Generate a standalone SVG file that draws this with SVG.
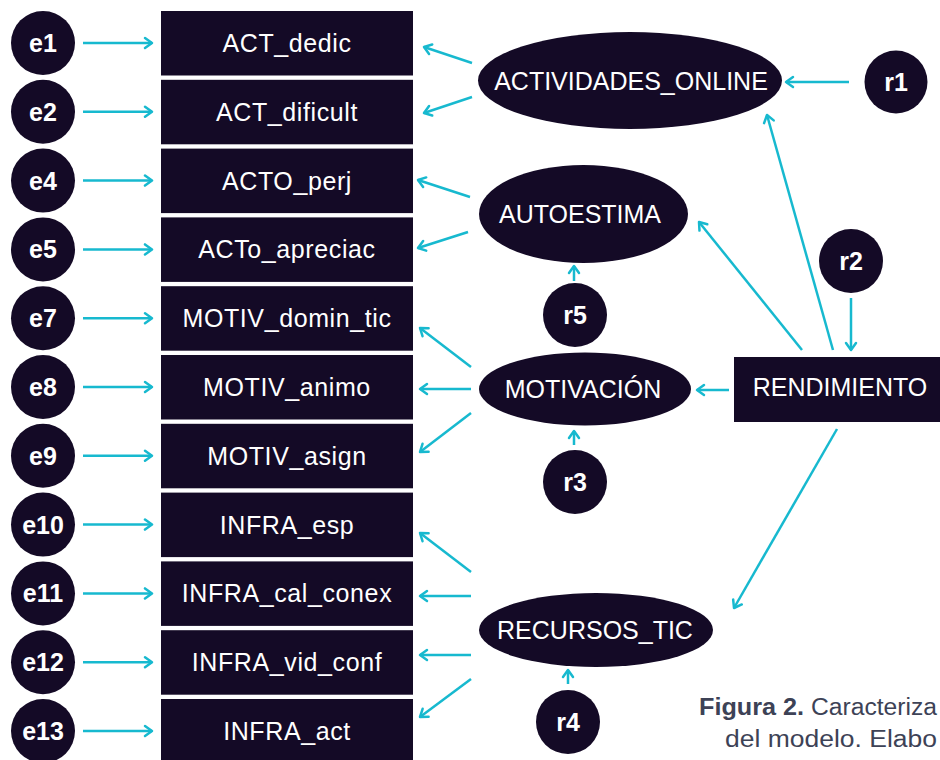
<svg xmlns="http://www.w3.org/2000/svg" width="940" height="760" viewBox="0 0 940 760">
<defs>
<marker id="ah" viewBox="-10 -7 12 14" refX="0" refY="0" markerWidth="12" markerHeight="14" markerUnits="userSpaceOnUse" orient="auto">
<path d="M-7,-5 L0,0 L-7,5" fill="none" stroke="#17b9cf" stroke-width="2.5" stroke-linecap="round" stroke-linejoin="round"/>
</marker>
<style>
.n{fill:#140a26}
.t{fill:#ffffff;font-family:"Liberation Sans",Arial,sans-serif;font-size:25px;text-anchor:middle}
.r{letter-spacing:0.6px}
.c{font-weight:bold;font-size:25px}
.ln{stroke:#17b9cf;stroke-width:2.5;fill:none;marker-end:url(#ah)}
.cap{font-family:"Liberation Sans",Arial,sans-serif;font-size:23px;fill:#3d4256}
</style>
</defs>
<rect width="940" height="760" fill="#ffffff"/>
<g id="e1"><circle class="n" cx="43" cy="43" r="32"/><text class="t c" x="43" y="52">e1</text></g>
<g id="e2"><circle class="n" cx="43" cy="111.8" r="32"/><text class="t c" x="43" y="120.8">e2</text></g>
<g id="e4"><circle class="n" cx="43" cy="180.6" r="32"/><text class="t c" x="43" y="189.6">e4</text></g>
<g id="e5"><circle class="n" cx="43" cy="249.4" r="32"/><text class="t c" x="43" y="258.4">e5</text></g>
<g id="e7"><circle class="n" cx="43" cy="318.2" r="32"/><text class="t c" x="43" y="327.2">e7</text></g>
<g id="e8"><circle class="n" cx="43" cy="387" r="32"/><text class="t c" x="43" y="396">e8</text></g>
<g id="e9"><circle class="n" cx="43" cy="455.8" r="32"/><text class="t c" x="43" y="464.8">e9</text></g>
<g id="e10"><circle class="n" cx="43" cy="524.6" r="32"/><text class="t c" x="43" y="533.6">e10</text></g>
<g id="e11"><circle class="n" cx="43" cy="593.4" r="32"/><text class="t c" x="43" y="602.4">e11</text></g>
<g id="e12"><circle class="n" cx="43" cy="662.2" r="32"/><text class="t c" x="43" y="671.2">e12</text></g>
<g id="e13"><circle class="n" cx="43" cy="731" r="32"/><text class="t c" x="43" y="740">e13</text></g>

<g id="ACT_dedic"><rect class="n" x="161" y="11" width="252" height="64.5"/><text class="t r" x="287" y="52">ACT_dedic</text></g>
<g id="ACT_dificult"><rect class="n" x="161" y="79.8" width="252" height="64.5"/><text class="t r" x="287" y="120.8">ACT_dificult</text></g>
<g id="ACTO_perj"><rect class="n" x="161" y="148.6" width="252" height="64.5"/><text class="t r" x="287" y="189.6">ACTO_perj</text></g>
<g id="ACTo_apreciac"><rect class="n" x="161" y="217.4" width="252" height="64.5"/><text class="t r" x="287" y="258.4">ACTo_apreciac</text></g>
<g id="MOTIV_domin_tic"><rect class="n" x="161" y="286.2" width="252" height="64.5"/><text class="t r" x="287" y="327.2">MOTIV_domin_tic</text></g>
<g id="MOTIV_animo"><rect class="n" x="161" y="355" width="252" height="64.5"/><text class="t r" x="287" y="396">MOTIV_animo</text></g>
<g id="MOTIV_asign"><rect class="n" x="161" y="423.8" width="252" height="64.5"/><text class="t r" x="287" y="464.8">MOTIV_asign</text></g>
<g id="INFRA_esp"><rect class="n" x="161" y="492.6" width="252" height="64.5"/><text class="t r" x="287" y="533.6">INFRA_esp</text></g>
<g id="INFRA_cal_conex"><rect class="n" x="161" y="561.4" width="252" height="64.5"/><text class="t r" x="287" y="602.4">INFRA_cal_conex</text></g>
<g id="INFRA_vid_conf"><rect class="n" x="161" y="630.2" width="252" height="64.5"/><text class="t r" x="287" y="671.2">INFRA_vid_conf</text></g>
<g id="INFRA_act"><rect class="n" x="161" y="699" width="252" height="64.5"/><text class="t r" x="287" y="740">INFRA_act</text></g>

<g id="ACTIVIDADES_ONLINE"><ellipse class="n" cx="630" cy="80.5" rx="152" ry="48.5"/><text class="t" x="631" y="90">ACTIVIDADES_ONLINE</text></g>
<g id="AUTOESTIMA"><ellipse class="n" cx="583.5" cy="214" rx="104.5" ry="49"/><text class="t" x="580" y="223">AUTOESTIMA</text></g>
<g id="MOTIVACION"><ellipse class="n" cx="585" cy="389" rx="106" ry="36.5"/><text class="t" x="583" y="398">MOTIVACIÓN</text></g>
<g id="RECURSOS_TIC"><ellipse class="n" cx="596" cy="630" rx="117" ry="37"/><text class="t" x="595" y="639">RECURSOS_TIC</text></g>
<g id="RENDIMIENTO"><rect class="n" x="734" y="357" width="216" height="65"/><text class="t" x="840" y="396">RENDIMIENTO</text></g>
<g id="r1"><circle class="n" cx="896" cy="82" r="31.5"/><text class="t c" x="896" y="91">r1</text></g>
<g id="r2"><circle class="n" cx="851" cy="261" r="32"/><text class="t c" x="851" y="270">r2</text></g>
<g id="r5"><circle class="n" cx="575" cy="315" r="32"/><text class="t c" x="575" y="324">r5</text></g>
<g id="r3"><circle class="n" cx="575" cy="482" r="32"/><text class="t c" x="575" y="491">r3</text></g>
<g id="r4"><circle class="n" cx="568" cy="722" r="32"/><text class="t c" x="568" y="731">r4</text></g>

<g id="connectors">
<line class="ln" x1="83" y1="43" x2="152" y2="43"/>
<line class="ln" x1="83" y1="111.8" x2="152" y2="111.8"/>
<line class="ln" x1="83" y1="180.6" x2="152" y2="180.6"/>
<line class="ln" x1="83" y1="249.4" x2="152" y2="249.4"/>
<line class="ln" x1="83" y1="318.2" x2="152" y2="318.2"/>
<line class="ln" x1="83" y1="387" x2="152" y2="387"/>
<line class="ln" x1="83" y1="455.8" x2="152" y2="455.8"/>
<line class="ln" x1="83" y1="524.6" x2="152" y2="524.6"/>
<line class="ln" x1="83" y1="593.4" x2="152" y2="593.4"/>
<line class="ln" x1="83" y1="662.2" x2="152" y2="662.2"/>
<line class="ln" x1="83" y1="731" x2="152" y2="731"/>
<line class="ln" x1="472" y1="63" x2="424" y2="47"/>
<line class="ln" x1="472" y1="97" x2="424" y2="113"/>
<line class="ln" x1="470" y1="197" x2="418" y2="180"/>
<line class="ln" x1="468" y1="232" x2="418" y2="248"/>
<line class="ln" x1="471" y1="367" x2="420" y2="328"/>
<line class="ln" x1="471" y1="389" x2="420" y2="389"/>
<line class="ln" x1="471" y1="413" x2="420" y2="452"/>
<line class="ln" x1="471" y1="572" x2="420" y2="533"/>
<line class="ln" x1="471" y1="596" x2="420" y2="596"/>
<line class="ln" x1="471" y1="655" x2="420" y2="655"/>
<line class="ln" x1="471" y1="679" x2="420" y2="717"/>
<line class="ln" x1="849" y1="82" x2="786" y2="82"/>
<line class="ln" x1="574" y1="281" x2="574" y2="266"/>
<line class="ln" x1="574" y1="445" x2="574" y2="431"/>
<line class="ln" x1="568" y1="684" x2="568" y2="670"/>
<line class="ln" x1="851" y1="298" x2="851" y2="350"/>
<line class="ln" x1="729" y1="390" x2="697" y2="390"/>
<line class="ln" x1="802" y1="350" x2="699" y2="222"/>
<line class="ln" x1="833" y1="350" x2="767" y2="115"/>
<line class="ln" x1="837" y1="429" x2="734" y2="608"/>
</g>

<g id="caption">
<text class="cap" x="699" y="715" font-weight="bold" textLength="105" lengthAdjust="spacingAndGlyphs">Figura 2.</text>
<text class="cap" x="811" y="715" textLength="126" lengthAdjust="spacingAndGlyphs">Caracteriza</text>
<text class="cap" x="725" y="747" textLength="212" lengthAdjust="spacingAndGlyphs">del modelo. Elabo</text>
</g>
</svg>
